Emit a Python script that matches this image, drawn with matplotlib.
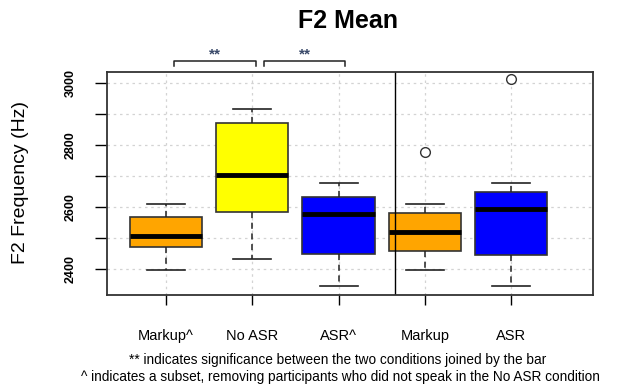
import matplotlib.pyplot as plt
from matplotlib.lines import Line2D

plt.rcParams['font.family'] = ['Liberation Sans', 'DejaVu Sans']

# box summaries (Hz)
labels = ['Markup^', 'No ASR', 'ASR^', 'Markup', 'ASR']
colors = ['orange', 'yellow', 'blue', 'orange', 'blue']
whislo = [2399, 2433, 2347, 2399, 2347]
q1 = [2471, 2586, 2450, 2458, 2445]
med = [2508, 2705, 2578, 2521, 2594]
q3 = [2569, 2871, 2633, 2582, 2649]
whishi = [2612, 2917, 2679, 2612, 2679]
fliers = [[], [], [], [2777], [3012]]

yticks = [2400, 2500, 2600, 2700, 2800, 2900, 3000]
ylabels = ['2400', '', '2600', '', '2800', '', '3000']

stats = []
for i in range(len(labels)):
    stats.append(dict(label=labels[i], whislo=whislo[i], q1=q1[i], med=med[i],
                      q3=q3[i], whishi=whishi[i], fliers=fliers[i]))

fig = plt.figure(figsize=(6.26, 3.87), dpi=100)
ax = fig.add_axes([107/626, 1-295/387, (593-107)/626, (295-72)/387])

pos = list(range(1, len(labels) + 1))
ax.grid(True, color='#d3d3d3', linestyle=(0, (2, 3)), linewidth=0.9)
ax.set_axisbelow(True)

bp = ax.bxp(stats, positions=pos, widths=0.84, patch_artist=True,
            boxprops=dict(edgecolor='#333333', linewidth=1.2),
            medianprops=dict(color='black', linewidth=3.5, solid_capstyle='butt'),
            whiskerprops=dict(color='#222222', linestyle=(0, (4, 3)), linewidth=1.1),
            capprops=dict(color='#222222', linewidth=1.2),
            flierprops=dict(marker='o', markerfacecolor='white', markeredgecolor='#333333',
                            markersize=7, markeredgewidth=1.0),
            capwidths=0.44)
for patch, c in zip(bp['boxes'], colors):
    patch.set_facecolor(c)

ax.set_xlim(0.316, 5.95)
ax.set_ylim(2317, 3036)
ax.axvline(3.66, color='black', linewidth=1.0)

ax.set_yticks(yticks)
ax.set_yticklabels(ylabels, rotation=90, va='center', fontsize=9, fontweight='bold')
ax.tick_params(axis='y', length=9, width=1.0, pad=13)
ax.set_xticks(pos)
ax.set_xticklabels(labels, fontsize=10.5)
ax.tick_params(axis='x', length=7.5, width=1.0, pad=17)
for s in ax.spines.values():
    s.set_color('#333333')
    s.set_linewidth(1.3)

# significance brackets
for x0, x1 in [(1.09, 2.04), (2.14, 3.08)]:
    ax.add_line(Line2D([x0, x0, x1, x1], [3054, 3071, 3071, 3054], color='#222222',
                       linewidth=1.1, clip_on=False))
    ax.text((x0 + x1) / 2, 3071, '**', ha='center', va='bottom', fontsize=11,
            fontweight='bold', color='#3a4a6a', clip_on=False)

fig.text(348/626, 1-21/387, 'F2 Mean', ha='center', va='center', fontsize=18, fontweight='bold')
fig.text(21/626, 1-182/387, 'F2 Frequency (Hz)', rotation=90, ha='center', va='center', fontsize=14)
fig.text(338/626, 1-360/387, '** indicates significance between the two conditions joined by the bar',
         ha='center', va='center', fontsize=9.8)
fig.text(340/626, 1-377/387,
         '^ indicates a subset, removing participants who did not speak in the No ASR condition',
         ha='center', va='center', fontsize=9.8)

fig.savefig('out.png', dpi=100)
